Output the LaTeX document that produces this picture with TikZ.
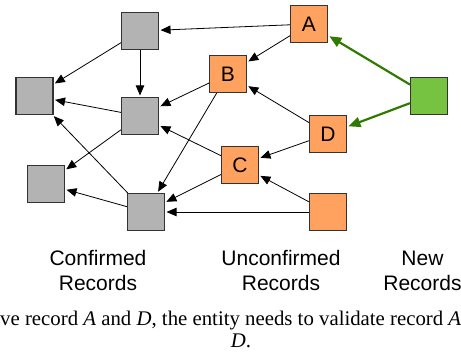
\documentclass[tikz,border=0pt]{standalone}
\usepackage{fontspec}
\setmainfont{Liberation Serif}
\setsansfont{Liberation Sans}
\usetikzlibrary{arrows.meta}
\definecolor{confgray}{HTML}{B3B3B3}
\definecolor{unconf}{HTML}{FFA25F}
\definecolor{newrec}{HTML}{76C241}
\definecolor{newedge}{HTML}{2F7A00}
\definecolor{boxline}{HTML}{333333}
\tikzset{
  rec/.style={draw=boxline, line width=1.1pt, minimum size=37pt, inner sep=0pt,
              font=\sffamily\fontsize{21}{21}\selectfont},
  confirmed/.style={rec, fill=confgray},
  unconfirmed/.style={rec, fill=unconf},
  newrecord/.style={rec, fill=newrec},
  link/.style={-{Triangle[length=10pt,width=8.5pt]}, line width=0.8pt, black, shorten >=1.5pt},
  newlink/.style={-{Triangle[length=12pt,width=10pt]}, line width=2.2pt, newedge, shorten >=1.5pt},
  group/.style={font=\sffamily\fontsize{21}{21}\selectfont, anchor=base, inner sep=0pt},
  caption/.style={font=\fontsize{20.8}{20.8}\selectfont, inner sep=0pt}
}
\begin{document}
\begin{tikzpicture}[x=1pt,y=-1pt]
\useasboundingbox (0,0) rectangle (461,354);
\clip (0,0) rectangle (461,354);

% confirmed records
\node[confirmed] (g1) at (140,31) {};
\node[confirmed] (g2) at (34.5,96) {};
\node[confirmed] (g3) at (140,116) {};
\node[confirmed] (g4) at (46,184) {};
\node[confirmed] (g5) at (146,212) {};

% unconfirmed records
\node[unconfirmed] (a) at (309,24) {A};
\node[unconfirmed] (b) at (228,74) {B};
\node[unconfirmed] (d) at (328,134) {D};
\node[unconfirmed] (c) at (240,165) {C};
\node[unconfirmed] (e) at (328,212) {};

% new record
\node[newrecord] (n) at (429,96) {};

% references between records
\draw[link] (a) -- (g1);
\draw[link] (a) -- (b);
\draw[link] (g1) -- (g2);
\draw[link] (g1) -- (g3);
\draw[link] (g3) -- (g2);
\draw[link] (b) -- (g3);
\draw[link] (b) -- (g5);
\draw[link] (c) -- (g3);
\draw[link] (c) -- (g5);
\draw[link] (g3) -- (g4);
\draw[link] (g5) -- (g2);
\draw[link] (g5) -- (g4);
\draw[link] (e) -- (g5);
\draw[link] (e) -- (c);
\draw[link] (d) -- (b);
\draw[link] (d) -- (c);
\draw[newlink] (n) -- (a);
\draw[newlink] (n) -- (d);

% group labels
\node[group] (l1a) at (98,265) {Confirmed};
\node[group] (l1b) at (98,290) {Records};
\node[group] (l2a) at (281,265) {Unconfirmed};
\node[group] (l2b) at (281,290) {Records};
\node[group] (l3a) at (422.5,265) {New};
\node[group] (l3b) at (422.5,290) {Records};

% caption
\node[caption, anchor=base west] (cap1) at (0,325)
  {ve record \textit{A} and \textit{D}, the entity needs to validate record \textit{A}};
\node[caption, anchor=base] (cap2) at (241,347) {\textit{D}.};
\end{tikzpicture}
\end{document}
